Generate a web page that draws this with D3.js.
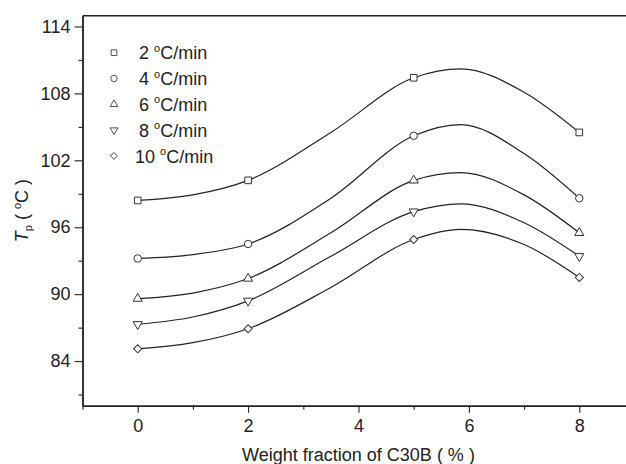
<!DOCTYPE html>
<html><head><meta charset="utf-8">
<script src="https://cdn.jsdelivr.net/npm/d3@7"></script>
<style>
body{margin:0;background:#fff}
svg{display:block}
text{font-family:Arial,"Liberation Sans",sans-serif;fill:#222}
</style>
</head><body>
<svg id="chart" width="626" height="464"></svg>
<script>
// ---- data ----
const xValues = [0, 2, 5, 8];
const rateLabels = ["2", "4", "6", "8", "10"];
const tp2  = [98.4, 100.2, 109.4, 104.5];
const tp4  = [93.2, 94.5, 104.2, 98.6];
const tp6  = [89.6, 91.4, 100.2, 95.5];
const tp8  = [87.3, 89.4, 97.4, 93.4];
const tp10 = [85.1, 86.9, 94.9, 91.5];

// fitted curves
const fitX    = [0, 1, 2, 3.5, 5, 5.85, 7, 8];
const fit2    = [98.4, 98.9, 100.2, 104.5, 109.4, 110.2, 108.1, 104.5];
const fit4    = [93.2, 93.55, 94.5, 98.6, 104.2, 105.2, 102.6, 98.6];
const fit6    = [89.6, 90.1, 91.4, 95.5, 100.2, 100.9, 98.9, 95.5];
const fit8    = [87.3, 87.95, 89.4, 93.4, 97.4, 98.1, 96.4, 93.4];
const fit10   = [85.1, 85.65, 86.9, 90.6, 94.9, 95.8, 94.45, 91.5];

const xMajorTicks = [0, 2, 4, 6, 8];
const xMinorTicks = [-1, 1, 3, 5, 7];
const yMajorTicks = [84, 90, 96, 102, 108, 114];
const yMinorTicks = [81, 87, 93, 99, 105, 111];

const seriesValues = [tp2, tp4, tp6, tp8, tp10];
const fitValues = [fit2, fit4, fit6, fit8, fit10];
const symbolKinds = ["square", "circle", "triangle", "triangleDown", "diamond"];

// ---- layout ----
const svg = d3.select("#chart");
const mLeft = 82.5, mTop = 15.3, mBottom = 405.7, mRight = 634.5;
const x = d3.scaleLinear().domain([-1, 9]).range([mLeft, mRight]);
const y = d3.scaleLinear().domain([80, 115]).range([mBottom, mTop]);
const ink = "#222";

function symbolPath(kind) {
  switch (kind) {
    case "square": return d3.symbol(d3.symbolSquare, 44)();
    case "circle": return d3.symbol(d3.symbolCircle, 44)();
    case "triangle": return d3.symbol(d3.symbolTriangle, 36)();
    case "triangleDown": return d3.symbol(d3.symbolTriangle, 36)();
    case "diamond": return d3.symbol(d3.symbolSquare, 33)();
  }
}
function symbolRotate(kind) {
  return kind === "triangleDown" ? 180 : kind === "diamond" ? 45 : 0;
}

// ---- axes ----
function styleAxis(g) {
  g.selectAll("path.domain").attr("stroke", ink).attr("stroke-width", 1.4);
  g.selectAll(".tick line").attr("stroke", ink).attr("stroke-width", 1.1);
  g.selectAll("text").attr("font-size", 18).attr("fill", ink)
    .attr("font-family", 'Arial,"Liberation Sans",sans-serif');
}
svg.append("g").attr("transform", `translate(${mLeft},0)`)
  .call(d3.axisLeft(y).tickValues(yMinorTicks).tickSize(4).tickSizeOuter(0).tickFormat(""))
  .call(styleAxis);
svg.append("g").attr("transform", `translate(${mLeft},0)`)
  .call(d3.axisLeft(y).tickValues(yMajorTicks).tickSize(8).tickPadding(4).tickSizeOuter(0).tickFormat(d3.format("d")))
  .call(styleAxis);
svg.append("g").attr("transform", `translate(0,${mBottom})`)
  .call(d3.axisBottom(x).tickValues(xMinorTicks).tickSize(4).tickSizeOuter(0).tickFormat(""))
  .call(styleAxis);
svg.append("g").attr("transform", `translate(0,${mBottom})`)
  .call(d3.axisBottom(x).tickValues(xMajorTicks).tickSize(7).tickPadding(7).tickSizeOuter(0).tickFormat(d3.format("d")))
  .call(styleAxis);
// top frame
svg.append("g").attr("transform", `translate(0,${mTop})`)
  .call(d3.axisTop(x).tickValues([]).tickSizeOuter(0))
  .call(styleAxis);

// ---- fitted curves ----
const line = d3.line().x(d => x(d[0])).y(d => y(d[1])).curve(d3.curveMonotoneX);
fitValues.forEach(vals => {
  svg.append("path")
    .attr("d", line(d3.zip(fitX, vals)))
    .attr("fill", "none").attr("stroke", ink).attr("stroke-width", 1.2);
});

// ---- markers ----
seriesValues.forEach((vals, i) => {
  const kind = symbolKinds[i];
  svg.append("g").selectAll("path").data(d3.zip(xValues, vals)).join("path")
    .attr("d", symbolPath(kind))
    .attr("transform", d => `translate(${x(d[0])},${y(d[1])}) rotate(${symbolRotate(kind)})`)
    .attr("fill", "#fff").attr("stroke", "#333").attr("stroke-width", 1);
});

// ---- legend ----
const legend = svg.append("g");
rateLabels.forEach((lab, i) => {
  const cy = 52.7 + i * 25.8;
  const kind = symbolKinds[i];
  legend.append("path").attr("d", symbolPath(kind))
    .attr("transform", `translate(114,${cy}) rotate(${symbolRotate(kind)}) scale(0.85)`)
    .attr("fill", "#fff").attr("stroke", "#333").attr("stroke-width", 1);
  const t = legend.append("text").attr("x", 139 - (lab.length - 1) * 4).attr("y", cy + 6.6)
    .attr("font-size", 18);
  t.append("tspan").text(lab + " ");
  t.append("tspan").attr("font-size", 11).attr("dy", -7.5).text("o");
  t.append("tspan").attr("dy", 7.5).text("C/min");
});

// ---- axis titles ----
svg.append("text").attr("x", x(4)).attr("y", 461).attr("text-anchor", "middle")
  .attr("font-size", 18).text("Weight fraction of C30B ( % )");

const yt = svg.append("text").attr("transform", `translate(28,${(mTop + mBottom) / 2}) rotate(-90)`)
  .attr("text-anchor", "middle").attr("font-size", 18);
yt.append("tspan").attr("font-style", "italic").text("T");
yt.append("tspan").attr("font-size", 11).attr("dy", 4).text("p");
yt.append("tspan").attr("dy", -4).text(" ( ");
yt.append("tspan").attr("font-size", 11).attr("dy", -7.5).text("o");
yt.append("tspan").attr("dy", 7.5).text("C )");
</script>
</body></html>
